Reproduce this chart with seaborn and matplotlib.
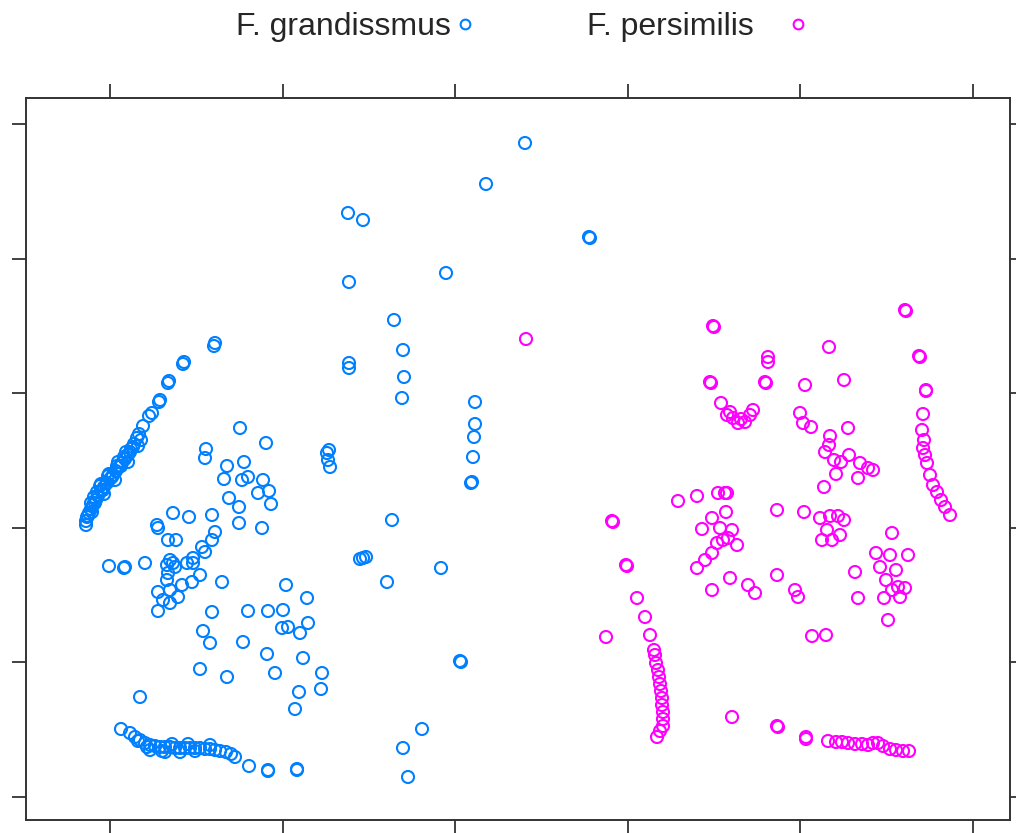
import matplotlib
matplotlib.use("Agg")
import matplotlib.pyplot as plt
from matplotlib.lines import Line2D
import seaborn as sns
import pandas as pd

# ---------------- data (arbitrary embedding units) ----------------
species = ["F. grandissmus", "F. persimilis"]
colors = ["#0080ff", "#ff00ff"]

grand_x = [
    # diagonal arc
    21.5, 21.4, 18.4, 18.3, 16.9, 16.8, 16.0, 15.9, 15.2, 14.9, 14.3, 13.9, 13.7, 13.4,
    13.1, 13.0, 12.8, 12.5, 12.2, 12.1, 11.9, 11.6, 11.3, 11.2, 11.0, 10.7, 10.4, 10.3,
    10.1, 9.8, 9.6, 9.5, 9.3, 9.1, 8.9, 8.8, 8.7, 8.6, 8.6,
    12.6, 11.8, 10.8, 10.0, 9.4, 13.8, 12.8, 11.5, 10.4, 9.2,
    13.3, 12.4, 11.7, 10.9, 10.1, 9.7, 9.1, 14.1,
    # scattered cloud
    24.0, 26.6, 20.6, 20.5, 22.7, 24.4, 22.4, 24.2, 24.8, 26.3, 26.9, 25.8, 27.1, 22.9,
    23.9, 23.9, 26.2, 32.7, 32.8, 33.0, 32.9, 17.3, 18.9, 21.2, 15.7, 15.8, 16.8, 17.6,
    21.5, 21.2, 20.2, 20.5, 19.3, 10.9, 12.5, 12.4, 14.5, 17.0, 17.3, 16.7, 17.5, 18.7,
    19.3, 20.0, 19.2, 18.2, 16.8, 16.7, 17.0, 15.8, 16.3, 17.0, 17.8, 22.2, 15.8, 21.2,
    24.8, 26.8, 28.3, 28.6, 30.7, 28.2, 28.8, 30.0, 30.8, 20.3, 21.0, 24.3, 26.7, 30.3,
    27.5, 32.2, 20.0, 22.7, 29.9, 32.1, 29.5, 14.0,
    # bottom arc
    12.1, 13.0, 13.5, 14.0, 14.5, 15.0, 15.5, 16.0, 16.5, 17.0, 17.5, 18.0, 18.5, 19.0,
    19.5, 20.0, 20.5, 21.0, 21.5, 22.0, 22.6, 23.1, 23.5, 24.9, 26.8, 26.8, 29.7, 29.7,
    15.0, 16.5, 18.0, 19.5, 14.7, 17.2, 18.8, 21.0, 16.2, 13.8,
    # middle
    52.5, 48.6, 34.8, 36.3, 58.9, 59.0, 44.6, 34.9, 39.4, 40.3, 34.9, 34.9, 40.4, 40.2,
    47.5, 47.5, 47.4, 47.3, 47.1, 47.2, 39.2, 36.3, 36.0, 36.6, 44.1, 38.7, 46.1, 46.0,
    42.2, 40.3, 40.8,
]
grand_y = [
    49.0, 48.7, 47.1, 46.9, 45.2, 45.0, 43.3, 43.1, 42.0, 41.7, 40.7, 39.9, 39.5, 38.9,
    38.4, 38.1, 37.8, 37.4, 37.0, 36.7, 36.6, 36.2, 35.8, 35.6, 35.4, 35.0, 34.6, 34.3,
    34.2, 33.7, 33.3, 33.0, 32.8, 32.4, 32.0, 31.7, 31.6, 31.2, 30.8,
    38.1, 37.1, 35.7, 34.7, 33.6, 38.7, 37.1, 35.3, 33.9, 32.1,
    38.6, 37.6, 36.7, 35.9, 34.9, 34.1, 33.0, 39.3,
    40.5, 39.0, 38.4, 37.5, 36.7, 37.1, 35.4, 35.3, 35.6, 35.3, 34.2, 34.0, 32.9, 33.5,
    32.6, 31.0, 30.5, 38.0, 37.3, 36.6, 38.3, 32.0, 31.6, 31.8, 30.8, 30.5, 29.3, 29.3,
    30.1, 29.3, 28.6, 28.1, 27.5, 26.7, 26.6, 26.5, 27.0, 27.3, 27.0, 26.8, 26.6, 27.0,
    27.0, 25.8, 25.1, 24.8, 26.0, 25.3, 24.3, 24.1, 23.3, 23.0, 23.6, 25.1, 22.2, 22.1,
    22.2, 22.2, 22.3, 24.8, 23.5, 20.5, 20.6, 20.0, 21.0, 20.2, 19.0, 19.1, 17.9, 17.5,
    16.0, 16.0, 16.4, 15.6, 14.1, 14.4, 12.4, 13.6,
    10.4, 10.0, 9.6, 9.3, 9.0, 8.8, 8.7, 8.6, 8.6, 8.6, 8.5, 8.5, 8.5, 8.5,
    8.5, 8.5, 8.4, 8.4, 8.3, 8.2, 8.1, 7.9, 7.6, 6.7, 6.3, 6.2, 6.4, 6.3,
    8.3, 8.1, 8.1, 8.2, 8.6, 8.9, 8.9, 8.8, 8.2, 9.2,
    69.0, 64.9, 62.0, 61.3, 59.6, 59.5, 56.0, 55.1, 51.3, 48.3, 47.0, 46.5, 45.6, 43.5,
    43.1, 40.9, 39.6, 37.6, 35.0, 35.1, 31.3, 27.5, 27.4, 27.6, 26.5, 25.1, 17.1, 17.2,
    10.4, 8.5, 5.6,
]

pers_x = [
    52.6, 71.3, 71.4, 76.8, 76.8, 71.0, 71.1, 76.5, 76.6, 72.1, 72.7, 73.3, 73.8, 74.5,
    75.0, 75.3, 73.0, 74.1,
    67.8, 69.7, 71.8, 72.5, 72.7, 72.6, 71.2, 70.2, 72.0, 73.2, 71.7, 72.3, 72.8, 73.7,
    71.2, 70.5, 69.7, 71.2, 73.0, 74.8, 75.5, 77.7, 77.7,
    # left arc
    61.2, 61.3, 62.6, 62.7, 63.7, 64.5, 65.0, 60.6, 65.4, 65.5, 65.6, 65.8, 65.9, 66.0,
    66.1, 66.2, 66.2, 66.3, 66.3, 66.3, 66.0, 65.7, 73.2, 77.7, 77.8,
    # bottom right arc
    80.6, 80.6, 82.8, 83.6, 84.2, 84.8, 85.5, 86.2, 86.8, 87.3, 87.8, 88.3, 89.0, 89.6,
    90.3, 90.9,
    # right arc
    90.5, 90.6, 91.9, 92.0, 92.6, 92.6, 92.3, 92.2, 92.4, 92.3, 92.5, 92.7, 93.0, 93.3,
    93.7, 94.1, 94.5, 95.0,
    # right cloud
    82.9, 84.4, 80.5, 80.0, 80.3, 81.1, 83.0, 84.8, 82.9, 82.5, 83.4, 84.1, 84.9, 86.0,
    86.8, 87.3, 82.4, 83.6, 85.8, 80.4, 82.0, 83.0, 83.8, 84.4, 82.7, 84.0, 82.2, 83.2,
    89.2, 87.6, 89.0, 90.8, 88.0, 89.6, 85.5, 88.6, 89.8, 90.5, 89.2, 85.8, 88.4, 90.0,
    88.8, 79.5, 79.8, 81.2, 82.6,
]
pers_y = [
    49.4, 50.7, 50.6, 47.6, 47.1, 45.1, 45.0, 45.1, 45.0, 43.0, 41.8, 41.5, 41.0, 41.1,
    41.8, 42.3, 42.1, 41.4,
    33.2, 33.7, 34.0, 34.0, 34.0, 32.1, 31.5, 30.4, 30.5, 30.3, 29.0, 29.3, 29.5, 28.8,
    28.0, 27.3, 26.5, 24.3, 25.5, 24.8, 24.0, 32.3, 25.8,
    31.2, 31.1, 26.8, 26.7, 23.5, 21.6, 19.8, 19.6, 18.3, 17.8, 17.0, 16.3, 15.6, 14.9,
    14.2, 13.5, 12.8, 12.1, 11.4, 10.7, 10.2, 9.6, 11.6, 10.7, 10.6,
    9.6, 9.4, 9.2, 9.1, 9.1, 9.0, 8.9, 8.9, 8.8, 9.0, 9.0, 8.7, 8.4, 8.3,
    8.2, 8.2,
    52.3, 52.2, 47.7, 47.6, 44.3, 44.2, 41.9, 40.3, 39.3, 38.5, 37.8, 37.0, 35.8, 34.8,
    34.1, 33.3, 32.6, 31.8,
    48.6, 45.3, 44.8, 42.0, 41.0, 40.6, 39.7, 40.5, 38.8, 38.1, 37.3, 37.1, 37.8, 37.0,
    36.5, 36.3, 34.6, 35.9, 35.5, 32.1, 31.5, 31.7, 31.7, 31.3, 30.3, 29.8, 29.3, 29.3,
    30.0, 28.0, 27.8, 27.8, 26.6, 26.3, 26.1, 25.3, 24.6, 24.5, 24.3, 23.5, 23.5, 23.6,
    21.3, 24.3, 23.6, 19.7, 19.8,
]

x_ticks = [11.0, 28.3, 45.5, 62.8, 80.0, 97.3]
y_ticks = [3.6, 17.1, 30.5, 44.0, 57.4, 70.9]

# ---------------- figure ----------------
sns.set_style("white")
plt.rcParams["font.family"] = ["Liberation Sans", "DejaVu Sans"]

fig = plt.figure(figsize=(10.16, 8.33), dpi=100)
ax = fig.add_axes([26 / 1016, 13 / 833, 984 / 1016, 722 / 833])

frames = [
    pd.DataFrame({"x": grand_x, "y": grand_y}),
    pd.DataFrame({"x": pers_x, "y": pers_y}),
]
for df, col in zip(frames, colors):
    sns.scatterplot(data=df, x="x", y="y", ax=ax, s=75, marker="o",
                    facecolor="none", edgecolor=col, linewidth=1.5,
                    legend=False)

ax.set_xlim(2.6, 101.0)
ax.set_ylim(1.3, 73.5)
ax.set_xticks(x_ticks)
ax.set_yticks(y_ticks)
ax.tick_params(axis="both", which="both", direction="out", length=10, width=1.3,
               color="#333333", top=True, bottom=True, left=True, right=True,
               labelbottom=False, labelleft=False, labeltop=False, labelright=False)
ax.set_xlabel("")
ax.set_ylabel("")
for sp in ax.spines.values():
    sp.set_visible(True)
    sp.set_color("#333333")
    sp.set_linewidth(1.4)

# key: two entries, lattice-style (text then symbol, equal column widths)
key_x = [236 / 1016, 587 / 1016]
key_pad = [0.04, 1.0]
for name, col, kx, pad in zip(species, colors, key_x, key_pad):
    h = Line2D([], [], linestyle="none", marker="o", markersize=7,
               markerfacecolor="none", markeredgecolor=col, markeredgewidth=1.5)
    fig.legend([h], [name], loc="center left", bbox_to_anchor=(kx, 1 - 27 / 833),
               frameon=False, fontsize=23, markerfirst=False, borderpad=0,
               borderaxespad=0, handlelength=0.8, handletextpad=pad)

fig.savefig("out.png", dpi=100)
